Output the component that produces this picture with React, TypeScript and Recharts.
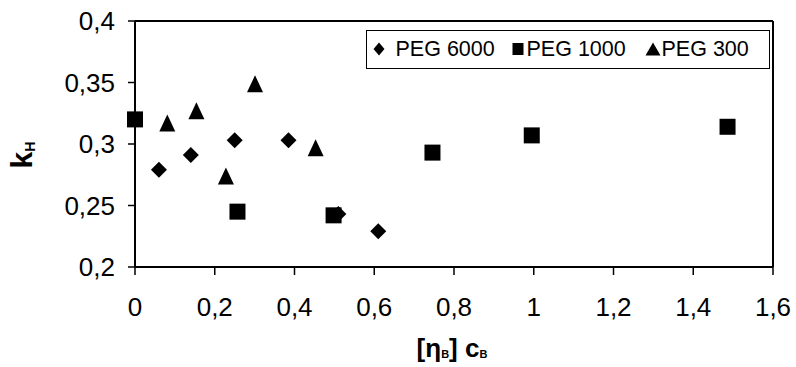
import React from 'react';
import {
  ScatterChart,
  Scatter,
  XAxis,
  YAxis,
  Legend,
  ReferenceLine,
} from 'recharts';

// values
const peg6000X = [0.06, 0.14, 0.25, 0.385, 0.51, 0.61];
const peg6000Y = [0.279, 0.291, 0.303, 0.303, 0.243, 0.229];
const peg1000X = [0, 0.257, 0.498, 0.746, 0.995, 1.486];
const peg1000Y = [0.32, 0.245, 0.242, 0.293, 0.307, 0.314];
const peg300X = [0.081, 0.154, 0.228, 0.301, 0.453];
const peg300Y = [0.317, 0.327, 0.274, 0.349, 0.297];

const xTicks = [0, 0.2, 0.4, 0.6, 0.8, 1, 1.2, 1.4, 1.6];
const yTicks = [0.2, 0.25, 0.3, 0.35, 0.4];

const seriesNames = ['PEG 6000', 'PEG 1000', 'PEG 300'];

const FONT = '"Liberation Sans", Arial, sans-serif';

const toPoints = (xs: number[], ys: number[]) => xs.map((x, i) => ({ x, y: ys[i] }));

const fmt = (v: number) => String(v).replace('.', ',');

const Diamond = ({ cx, cy }: any) => (
  <polygon points={`${cx},${cy - 8} ${cx + 8},${cy} ${cx},${cy + 8} ${cx - 8},${cy}`} fill="#000" />
);

const Square = ({ cx, cy }: any) => (
  <rect x={cx - 8} y={cy - 8} width={16} height={16} fill="#000" />
);

const Triangle = ({ cx, cy }: any) => (
  <polygon points={`${cx},${cy - 8.5} ${cx + 8},${cy + 8.5} ${cx - 8},${cy + 8.5}`} fill="#000" />
);

// legend item placement inside the box (icon left, text left)
const legendIconX = [7, 146, 279];
const legendTextX = [30, 161, 296];

const legendIcons = [
  <svg key="d" width={12} height={14}><polygon points="6,0.5 11.5,7 6,13.5 0.5,7" fill="#000" /></svg>,
  <svg key="s" width={12} height={14}><rect x={0.5} y={1} width={11} height={12} fill="#000" /></svg>,
  <svg key="t" width={16} height={14}><polygon points="8,0.5 15.5,13.5 0.5,13.5" fill="#000" /></svg>,
];

const renderLegend = () => (
  <div
    style={{
      position: 'relative',
      border: '1.5px solid #000',
      boxSizing: 'border-box',
      height: 39,
      fontFamily: FONT,
      fontSize: 21.5,
      color: '#000',
      background: '#fff',
    }}
  >
    {seriesNames.map((name, i) => (
      <React.Fragment key={name}>
        <span style={{ position: 'absolute', left: legendIconX[i] - 1.5, top: 11, lineHeight: 0 }}>
          {legendIcons[i]}
        </span>
        <span style={{ position: 'absolute', left: legendTextX[i] - 1.5, top: 6, lineHeight: '24px', whiteSpace: 'nowrap' }}>
          {name}
        </span>
      </React.Fragment>
    ))}
  </div>
);

const XTitle = ({ viewBox }: any) => {
  const cx = viewBox.x + viewBox.width / 2 - 2;
  return (
    <text x={cx} y={viewBox.y + 90} textAnchor="middle" fontFamily={FONT} fontWeight="bold" fontSize={26} fill="#000">
      <tspan>[η</tspan>
      <tspan fontSize={11} dy={1}>B</tspan>
      <tspan dy={-1}>] c</tspan>
      <tspan fontSize={11} dy={1}>B</tspan>
    </text>
  );
};

const YTitle = () => (
  <text
    x={32}
    y={155}
    textAnchor="middle"
    transform="rotate(-90 32 155)"
    fontFamily={FONT}
    fontWeight="bold"
    fontSize={30}
    fill="#000"
  >
    <tspan>k</tspan>
    <tspan fontSize={14} dy={3}>H</tspan>
  </text>
);

export default function App() {
  const tickStyle = { fontFamily: FONT, fontSize: 26, fill: '#000' };
  return (
    <div style={{ position: 'absolute', left: 0, top: 0, background: '#fff' }}>
      <ScatterChart width={796} height={367} margin={{ top: 21, right: 23, left: 0, bottom: 0 }}>
        <XAxis
          type="number"
          dataKey="x"
          domain={[0, 1.6]}
          ticks={xTicks}
          tickFormatter={fmt}
          height={100}
          tickSize={8}
          tickMargin={23}
          tick={tickStyle}
          axisLine={{ stroke: '#000', strokeWidth: 2 }}
          tickLine={{ stroke: '#000', strokeWidth: 1.5 }}
          interval={0}
          label={<XTitle />}
        />
        <YAxis
          type="number"
          dataKey="y"
          domain={[0.2, 0.4]}
          ticks={yTicks}
          tickFormatter={fmt}
          width={135}
          tickSize={7}
          tickMargin={13}
          tick={tickStyle}
          axisLine={{ stroke: '#000', strokeWidth: 2 }}
          tickLine={{ stroke: '#000', strokeWidth: 1.5 }}
          interval={0}
          label={<YTitle />}
        />
        <ReferenceLine y={0.4} stroke="#000" strokeWidth={2} />
        <ReferenceLine x={1.6} stroke="#000" strokeWidth={2} />
        <Legend
          layout="vertical"
          align="center"
          verticalAlign="middle"
          content={renderLegend}
          wrapperStyle={{ left: 366, top: 30, width: 404 }}
        />
        <Scatter name={seriesNames[0]} data={toPoints(peg6000X, peg6000Y)} shape={<Diamond />} isAnimationActive={false} />
        <Scatter name={seriesNames[1]} data={toPoints(peg1000X, peg1000Y)} shape={<Square />} isAnimationActive={false} />
        <Scatter name={seriesNames[2]} data={toPoints(peg300X, peg300Y)} shape={<Triangle />} isAnimationActive={false} />
      </ScatterChart>
    </div>
  );
}
